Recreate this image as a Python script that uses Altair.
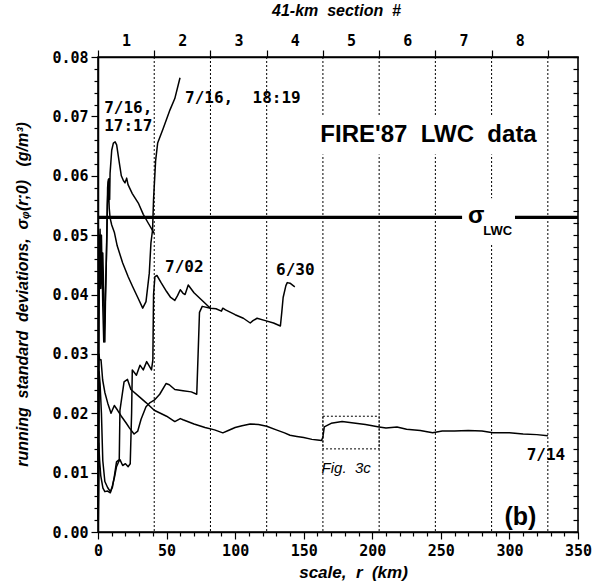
import altair as alt
import pandas as pd

NB = "\u00a0"

# ---------------- data ----------------
sec_bounds = [0, 41, 82, 123, 164, 205, 246, 287, 328]
sec_centers = [20.5, 61.5, 102.5, 143.5, 184.5, 225.5, 266.5, 307.5]
x_ticks = list(range(0, 351, 10))
y_ticks = [round(i * 0.002, 3) for i in range(41)]
sigma_lwc = 0.053
sigma_seg_start = [0, 304]
sigma_seg_end = [265.5, 350]

curve_0714 = [(0.2, 0.004), (0.8, 0.027), (1.5, 0.025), (2.5, 0.020), (3.5, 0.012), (5, 0.0085),
              (7, 0.0075), (9, 0.0068), (10.5, 0.0075), (12, 0.0095), (13.5, 0.0118), (15.5, 0.0122),
              (16, 0.0205), (19, 0.0253), (21.5, 0.0257), (24, 0.0240), (30, 0.0228), (35, 0.0218),
              (41, 0.0205), (50, 0.0195), (56, 0.0186), (60, 0.0191), (62, 0.0189), (70, 0.0182),
              (78, 0.0176), (85, 0.0172), (91, 0.0167), (95, 0.0171), (100, 0.0176), (105, 0.0179),
              (111, 0.0182), (117, 0.0181), (123, 0.0178), (130, 0.0172), (136, 0.0167), (140, 0.0163),
              (145, 0.0161), (150, 0.0159), (156, 0.0156), (160, 0.0155), (163, 0.0154), (164, 0.0160),
              (165, 0.0177), (170, 0.0183), (178, 0.0186), (185, 0.0184), (195, 0.0181), (205, 0.0177),
              (210, 0.0175), (218, 0.0177), (225, 0.0173), (235, 0.0171), (244, 0.0167), (251, 0.0170),
              (260, 0.0170), (270, 0.0171), (280, 0.0170), (288, 0.0167), (300, 0.0167), (310, 0.0165),
              (320, 0.0164), (328, 0.0162)]

curve_0630 = [(0.2, 0.002), (0.6, 0.030), (1.2, 0.029), (2.2, 0.029), (3.4, 0.0256), (5, 0.0235),
              (7.1, 0.0217), (9.5, 0.0200), (11.9, 0.0213), (14.3, 0.0205), (17, 0.0195), (20.4, 0.0184),
              (23, 0.0175), (26.3, 0.0165), (29, 0.0170), (31.4, 0.0190), (35, 0.0211), (38, 0.0218),
              (41, 0.0222), (45, 0.0232), (49.6, 0.0250), (52, 0.0248), (56, 0.0240), (62, 0.0238),
              (68, 0.0236), (72, 0.0232), (73, 0.0300), (74, 0.0370), (76, 0.0380), (82, 0.0377),
              (86, 0.0376), (90, 0.0372), (91, 0.0377), (93, 0.0374), (100, 0.0366), (106, 0.0360),
              (111, 0.0352), (113, 0.0356), (116, 0.0360), (122, 0.0356), (128, 0.0352), (133, 0.0347),
              (134, 0.0370), (135, 0.0395), (137, 0.0415), (138, 0.0420), (140, 0.0419), (143.5, 0.0413)]

curve_0702 = [(0.2, 0.002), (0.5, 0.015), (1.2, 0.012), (2, 0.0095), (3.6, 0.0074), (5, 0.0068),
              (7, 0.0069), (9, 0.0066), (10.5, 0.0078), (12, 0.0092), (13.5, 0.0110), (15, 0.0118),
              (16, 0.0122), (18, 0.0112), (20, 0.0115), (22, 0.0110), (23.5, 0.0115), (24.5, 0.0200),
              (25, 0.0273), (28, 0.0264), (30.6, 0.0281), (33, 0.0273), (35.5, 0.0287), (39, 0.0273),
              (40, 0.0290), (40.5, 0.0400), (41.5, 0.0430), (43, 0.0432), (46, 0.0420), (50, 0.0405),
              (53, 0.0395), (56, 0.0390), (58, 0.0398), (60, 0.0408), (62, 0.0402), (63.5, 0.0400),
              (65.8, 0.0416), (70, 0.0403), (75, 0.0392), (80, 0.0381), (82, 0.0377)]

curve_0716a = [(0.2, 0.002), (0.5, 0.030), (1, 0.047), (1.5, 0.051), (2, 0.045), (2.5, 0.050),
               (3, 0.043), (3.5, 0.047), (4, 0.042), (4.5, 0.035), (5, 0.032), (5.5, 0.040),
               (6, 0.045), (6.5, 0.050), (7, 0.058), (7.5, 0.0593), (8, 0.0595), (8.5, 0.0560),
               (8.8, 0.0604), (10, 0.0643), (11.2, 0.0655), (12.5, 0.0657), (13.6, 0.0652), (15, 0.0630),
               (16, 0.0615), (17, 0.0600), (18.5, 0.0592), (19.7, 0.0588), (20.9, 0.0596), (21.9, 0.0585),
               (25, 0.0570), (29.4, 0.0554), (33, 0.0535), (36.7, 0.0520), (41, 0.0503)]

curve_0716b = [(0.2, 0.002), (0.6, 0.035), (1.2, 0.050), (2, 0.041), (2.8, 0.047), (3.5, 0.038),
               (4.2, 0.032), (5, 0.036), (6, 0.045), (6.8, 0.055), (7.5, 0.0590), (8.2, 0.0545),
               (8.8, 0.0529), (10, 0.0517), (11.9, 0.0505), (14, 0.0482), (18, 0.0453), (22, 0.0430),
               (25.3, 0.0413), (29, 0.0395), (32.6, 0.0377), (35, 0.0388), (37.4, 0.0436), (38.6, 0.0487),
               (39.8, 0.0509), (40.5, 0.0560), (42, 0.0625), (43.5, 0.0655), (47.6, 0.0680), (52.5, 0.0711),
               (56, 0.0730), (59.8, 0.0765)]

curve_names = ["7/14", "6/30", "7/02", "7/16 17:17", "7/16 18:19"]
curves = [curve_0714, curve_0630, curve_0702, curve_0716a, curve_0716b]

label_text = ["7/16,", "17:17", "7/16," + NB * 2 + "18:19", "7/02", "6/30", "7/14"]
label_r = [4.5, 4.5, 63.5, 48.9, 129.8, 312.6]
label_v = [0.0714, 0.0683, 0.0731, 0.0447, 0.0442, 0.0129]

title_text = "FIRE'87" + NB * 2 + "LWC" + NB * 2 + "data"
title_r, title_v = 241, 0.0668
fig_text, fig_r, fig_v = "Fig." + NB * 2 + "3c", 163, 0.0107
panel_text, panel_r, panel_v = "(b)", 308, 0.0026
sig_r, sig_v = 275.7, 0.0533
sub_r, sub_v = 281, 0.0507

box_r1, box_r2, box_v1, box_v2 = 164, 205, 0.0140, 0.0195
mask_r1 = [159, 266]
mask_r2 = [324, 304]
mask_v1 = [0.0636, 0.0485]
mask_v2 = [0.0702, 0.0562]

x_title = "scale," + NB * 2 + "r" + NB * 2 + "(km)"
y_title = ("running" + NB * 2 + "standard" + NB * 2 + "deviations," + NB * 2 + "σᵩ(r;0)"
           + NB * 3 + "(g/m³)")
top_title = "41-km" + NB * 2 + "section" + NB * 2 + "#"

# ---------------- tables ----------------
rows = []
for name, c in zip(curve_names, curves):
    for i, (r, v) in enumerate(c):
        rows.append({"series": name, "i": i, "r": r, "v": v})
curve_df = pd.DataFrame(rows)

xs = alt.Scale(domain=[0, 350], nice=False, zero=False)
ys = alt.Scale(domain=[0, 0.08], nice=False, zero=False)
MONO = "DejaVu Sans Mono"
SANS = "Liberation Sans"

def X(field, axis=None, **kw):
    return alt.X(field, type="quantitative", scale=xs, axis=axis, **kw)

def Y(field, axis=None, **kw):
    return alt.Y(field, type="quantitative", scale=ys, axis=axis, **kw)

common_axis = dict(grid=False, domainColor="black", domainWidth=1.5, tickColor="black",
                   tickWidth=1.2, labelColor="black", titleColor="black",
                   labelFont=MONO, labelFontSize=15, labelFontWeight="bold",
                   titleFont=SANS, titleFontStyle="italic", titleFontWeight="bold",
                   labelOverlap=False, labelFlush=False)

bottom_axis = alt.Axis(orient="bottom", values=x_ticks, format="d",
                       labelExpr="datum.value % 50 === 0 ? datum.label : ''",
                       tickSize={"condition": {"test": "datum.value % 50 === 0", "value": 7}, "value": 4},
                       labelPadding=4, title=x_title, titleFontSize=17,
                       titleX=255, titleY=40, titleBaseline="middle", **common_axis)

left_axis = alt.Axis(orient="left", values=y_ticks,
                     labelExpr="round(datum.value*1000) % 10 === 0 ? format(datum.value, '.2f') : ''",
                     tickSize={"condition": {"test": "round(datum.value*1000) % 10 === 0", "value": 7}, "value": 4},
                     labelPadding=3, title=y_title, titleFontSize=16,
                     titleX=-76, titleY=237, titleAngle=-90, titleBaseline="middle", **common_axis)

top_axis = alt.Axis(orient="top", values=sorted(sec_bounds + sec_centers),
                    labelExpr="datum.value % 41 === 0 ? '' : format((datum.value + 20.5) / 41, 'd')",
                    tickSize={"condition": {"test": "datum.value % 41 === 0", "value": 7}, "value": 0},
                    labelPadding=9, title=top_title, titleFontSize=16,
                    titleX=238, titleY=-47, titleBaseline="middle", **common_axis)

right_axis = alt.Axis(orient="right", values=y_ticks, labels=False, domain=False, tickSize=5,
                      offset=-5, tickColor="black", tickWidth=1.2, grid=False, title=None)

# ---------------- layers ----------------
sec_df = pd.DataFrame({"r": sec_bounds[1:]})
rules = alt.Chart(sec_df).mark_rule(color="black", strokeWidth=1, strokeDash=[2, 2]).encode(
    x=X("r"), y=alt.value(0), y2=alt.value(475))

box_df = pd.DataFrame({"r1": [box_r1], "r2": [box_r2], "v1": [box_v1], "v2": [box_v2]})
fig_box = alt.Chart(box_df).mark_rect(fillOpacity=0, stroke="black", strokeWidth=1,
                                      strokeDash=[2, 2]).encode(
    x=X("r1"), x2="r2", y=Y("v1"), y2="v2")

sig_df = pd.DataFrame({"r1": sigma_seg_start, "r2": sigma_seg_end, "v": [sigma_lwc] * 2})
sig_line = alt.Chart(sig_df).mark_rule(color="black", strokeWidth=3.2).encode(
    x=X("r1"), x2="r2", y=Y("v"))

mask_df = pd.DataFrame({"r1": mask_r1, "r2": mask_r2, "v1": mask_v1, "v2": mask_v2})
masks = alt.Chart(mask_df).mark_rect(color="white").encode(
    x=X("r1"), x2="r2", y=Y("v1"), y2="v2")

lines = alt.Chart(curve_df).mark_line(color="black", strokeWidth=1.5, strokeJoin="round").encode(
    x=X("r"), y=Y("v"), detail="series:N", order="i:Q")

lab_df = pd.DataFrame({"t": label_text, "r": label_r, "v": label_v})
labels = alt.Chart(lab_df).mark_text(align="left", baseline="middle", font=MONO,
                                     fontWeight="bold", fontSize=16, color="black").encode(
    x=X("r"), y=Y("v"), text="t:N")

def single_text(txt, r, v, **kw):
    d = pd.DataFrame({"t": [txt], "r": [r], "v": [v]})
    return alt.Chart(d).mark_text(baseline="middle", color="black", **kw).encode(
        x=X("r"), y=Y("v"), text="t:N")

title = single_text(title_text, title_r, title_v, align="center", font=SANS,
                    fontWeight="bold", fontSize=24)
figlab = single_text(fig_text, fig_r, fig_v, align="left", font=SANS, fontStyle="italic", fontSize=15)
panel = single_text(panel_text, panel_r, panel_v, align="center", font=SANS,
                    fontWeight="bold", fontSize=25)
sig = single_text("σ", sig_r, sig_v, align="center", font=SANS, fontWeight="bold", fontSize=24)
sub = single_text("LWC", sub_r, sub_v, align="left", font=SANS, fontWeight="bold", fontSize=13)

dummy = pd.DataFrame({"r": [0], "v": [0]})
def axis_layer(xaxis=None, yaxis=None):
    return alt.Chart(dummy).mark_point(opacity=0).encode(x=X("r", axis=xaxis), y=Y("v", axis=yaxis))

chart = alt.layer(
    rules, fig_box, sig_line, masks, lines, labels, title, figlab, panel, sig, sub,
    axis_layer(xaxis=bottom_axis), axis_layer(yaxis=left_axis),
    axis_layer(xaxis=top_axis), axis_layer(yaxis=right_axis),
).resolve_axis(
    x="independent", y="independent"
).properties(
    width=480, height=475,
    padding={"left": 98, "top": 57, "right": 16, "bottom": 56},
    autosize=alt.AutoSizeParams(type="none"),
    background="white",
).configure_view(stroke="black", strokeWidth=1.6)

chart.save("out.html", embed_options={"renderer": "svg", "actions": False})
